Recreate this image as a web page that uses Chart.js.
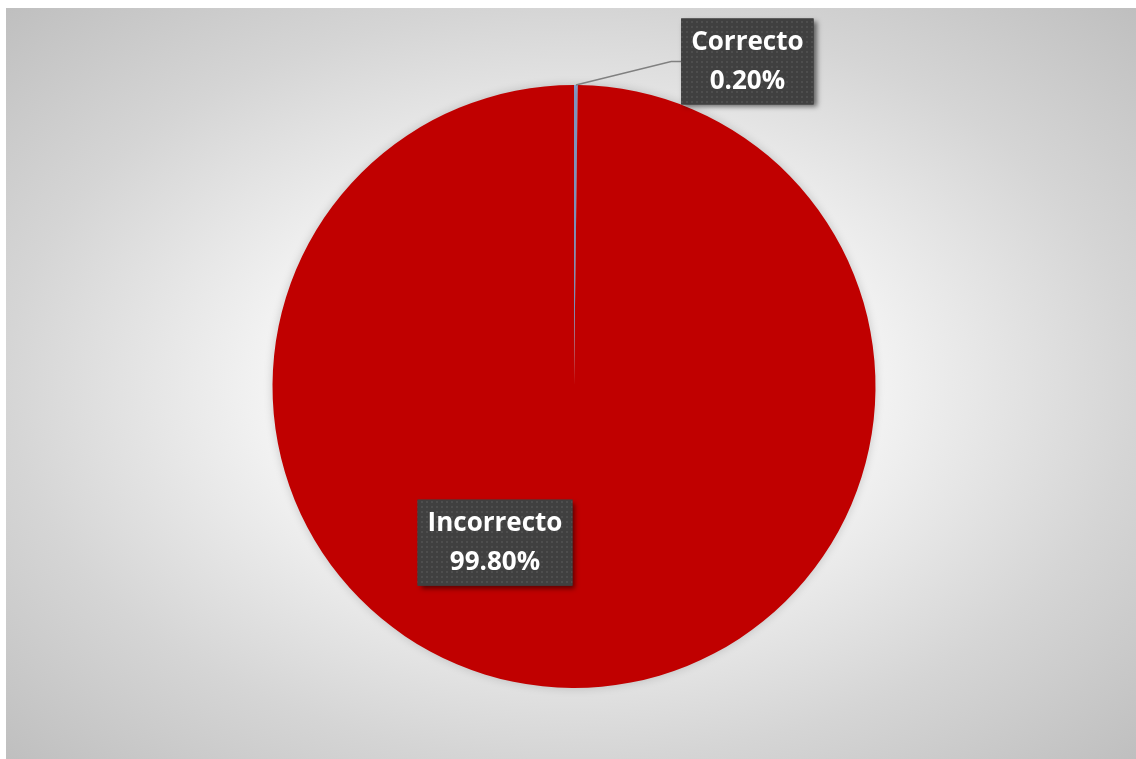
<!DOCTYPE html>
<html>
<head>
<meta charset="utf-8">
<script src="https://cdn.jsdelivr.net/npm/chart.js@4.4.1/dist/chart.umd.min.js"></script>
<style>
  html, body { margin: 0; padding: 0; background: #ffffff; }
  #wrap { width: 1136px; height: 759px; position: relative; }
</style>
</head>
<body>
<div id="wrap"><canvas id="pieChart" width="1136" height="759"></canvas></div>
<script>
// datos del grafico
var categorias = ['Correcto', 'Incorrecto'];
var porcentajes = [0.20, 99.80];
var colores = ['#8faadc', '#c00000'];

// fondo con degradado radial eliptico (como en Excel)
var fondoPlugin = {
    id: 'fondo',
    beforeDraw: function (chart) {
        var ctx = chart.ctx;
        var x0 = 6, y0 = 8, x1 = chart.width, y1 = chart.height;
        var cx = (x0 + x1) / 2, cy = (y0 + y1) / 2;
        var hw = (x1 - x0) / 2, hh = (y1 - y0) / 2;
        var r = Math.SQRT2 * hw;
        ctx.save();
        ctx.beginPath();
        ctx.rect(x0, y0, x1 - x0, y1 - y0);
        ctx.clip();
        ctx.translate(cx, cy);
        ctx.scale(1, hh / hw);
        var g = ctx.createRadialGradient(0, 0, 0, 0, 0, r);
        g.addColorStop(0, '#ffffff');
        g.addColorStop(0.3, '#fafafa');
        g.addColorStop(0.707, '#d5d5d5');
        g.addColorStop(1, '#bfbfbf');
        ctx.fillStyle = g;
        ctx.fillRect(-r, -r, 2 * r, 2 * r);
        ctx.restore();
    }
};

// sombra suave del pastel
var sombraPlugin = {
    id: 'sombra',
    beforeDatasetsDraw: function (chart) {
        var ctx = chart.ctx;
        ctx.save();
        ctx.shadowColor = 'rgba(0,0,0,0.18)';
        ctx.shadowBlur = 10;
    },
    afterDatasetsDraw: function (chart) {
        chart.ctx.restore();
    }
};

// patron de puntos para las etiquetas
function crearPatron(ctx) {
    var c = document.createElement('canvas');
    c.width = 5; c.height = 5;
    var p = c.getContext('2d');
    p.fillStyle = '#404040';
    p.fillRect(0, 0, 5, 5);
    p.fillStyle = '#4e4e4e';
    p.fillRect(1, 1, 2, 2);
    return ctx.createPattern(c, 'repeat');
}

// posicion de cada etiqueta relativa al centro, en unidades del radio
var etiquetasPos = [
    { dx: 0.575, dy: -1.078, linea: true },
    { dx: -0.262, dy: 0.518, linea: false }
];

var etiquetasPlugin = {
    id: 'etiquetas',
    afterDatasetsDraw: function (chart) {
        var ctx = chart.ctx;
        var meta = chart.getDatasetMeta(0);
        var patron = crearPatron(ctx);
        ctx.save();
        ctx.font = 'bold 26px "Open Sans"';
        meta.data.forEach(function (arc, i) {
            var r = arc.outerRadius;
            var bx = arc.x + etiquetasPos[i].dx * r;
            var by = arc.y + etiquetasPos[i].dy * r;
            var linea1 = categorias[i];
            var linea2 = porcentajes[i].toFixed(2) + '%';
            var w = Math.max(ctx.measureText(linea1).width, ctx.measureText(linea2).width) + 20;
            var h = 86;
            var left = bx - w / 2, top = by - h / 2;

            if (etiquetasPos[i].linea) {
                var mid = (arc.startAngle + arc.endAngle) / 2;
                var px = arc.x + Math.cos(mid) * r;
                var py = arc.y + Math.sin(mid) * r;
                ctx.strokeStyle = '#808080';
                ctx.lineWidth = 1.5;
                ctx.beginPath();
                ctx.moveTo(px, py);
                ctx.lineTo(left - 10, by);
                ctx.lineTo(left, by);
                ctx.stroke();
            }

            ctx.save();
            ctx.shadowColor = 'rgba(0,0,0,0.55)';
            ctx.shadowBlur = 5;
            ctx.shadowOffsetX = 3;
            ctx.shadowOffsetY = 3;
            ctx.fillStyle = '#404040';
            ctx.fillRect(left, top, w, h);
            ctx.restore();
            ctx.fillStyle = patron;
            ctx.fillRect(left, top, w, h);

            ctx.fillStyle = '#ffffff';
            ctx.textAlign = 'center';
            ctx.textBaseline = 'middle';
            ctx.fillText(linea1, bx, by - 19);
            ctx.fillText(linea2, bx, by + 20);
        });
        ctx.restore();
    }
};

var ctx = document.getElementById('pieChart').getContext('2d');

var myChart = new Chart(ctx, {
    type: 'pie',
    data: {
        labels: categorias,
        datasets: [{
            data: porcentajes,
            backgroundColor: colores,
            borderWidth: 0
        }]
    },
    options: {
        responsive: false,
        animation: false,
        layout: {
            padding: { top: 85, bottom: 71, left: 12, right: 0 }
        },
        plugins: {
            legend: { display: false },
            tooltip: { enabled: false }
        }
    },
    plugins: [fondoPlugin, sombraPlugin, etiquetasPlugin]
});
</script>
</body>
</html>
